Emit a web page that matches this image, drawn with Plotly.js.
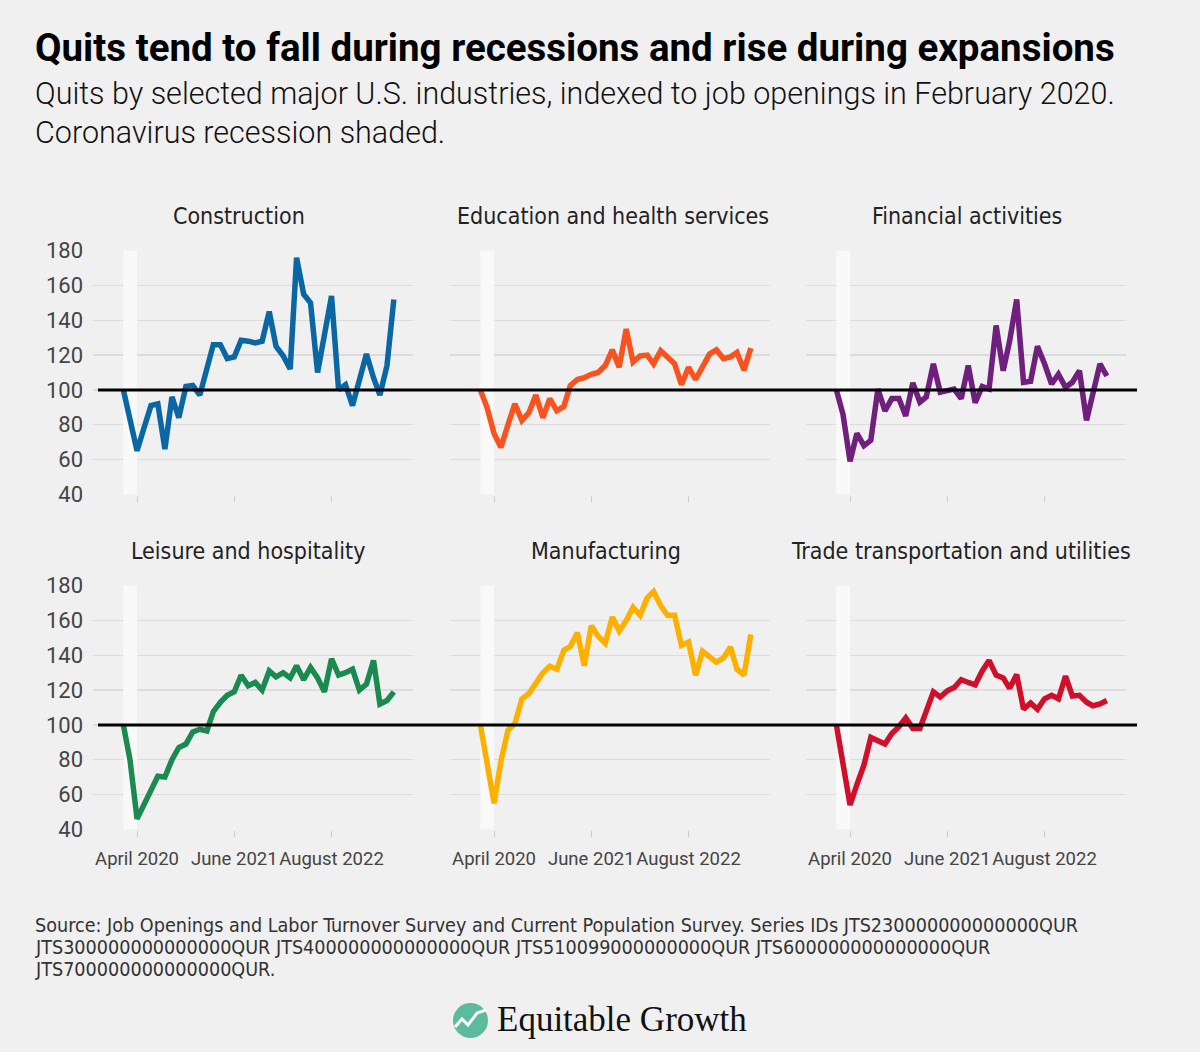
<!DOCTYPE html>
<html>
<head>
<meta charset="utf-8">
<script src="https://cdn.plot.ly/plotly-3.0.1.min.js"></script>
<style>
  body { margin: 0; background: #f0f0f0; }
  #chart { width: 1200px; height: 1052px; }
</style>
</head>
<body>
<div id="chart"></div>
<script>
// months, Feb 2020 .. May 2023
var months = [
  '2020-02-01','2020-03-01','2020-04-01','2020-05-01','2020-06-01','2020-07-01','2020-08-01','2020-09-01','2020-10-01','2020-11-01','2020-12-01',
  '2021-01-01','2021-02-01','2021-03-01','2021-04-01','2021-05-01','2021-06-01','2021-07-01','2021-08-01','2021-09-01','2021-10-01','2021-11-01','2021-12-01',
  '2022-01-01','2022-02-01','2022-03-01','2022-04-01','2022-05-01','2022-06-01','2022-07-01','2022-08-01','2022-09-01','2022-10-01','2022-11-01','2022-12-01',
  '2023-01-01','2023-02-01','2023-03-01','2023-04-01','2023-05-01'
];

var construction = [100, 83, 65, 78, 91, 92, 66, 96, 84, 102, 102.5, 97, 113, 126, 126, 118, 119, 128.5, 128, 127, 128, 145, 125, 119.6, 112, 176, 155, 150, 110, 132, 154, 100, 103, 91, 106, 120.6, 107, 97, 114, 152];
var education = [100, 90, 75, 67, 80, 92, 82.5, 87, 97, 84, 95, 88, 90.5, 102.5, 106, 107, 109, 110, 114, 123, 113, 135, 116, 119.6, 120, 115, 122.5, 118.7, 115, 103, 113, 106, 114, 120.6, 123, 118, 119, 121.5, 111.4, 124];
var financial = [100, 86, 59, 75, 68, 71, 100.5, 88, 95, 95, 85, 104, 93, 96, 115, 98.7, 99.6, 100.5, 95, 114, 92.6, 102, 100.5, 137, 111, 128, 152, 104.4, 105, 125, 115, 103.4, 109, 101.5, 104.4, 111, 82.5, 97.7, 115, 108];
var leisure = [100, 80, 46, 54, 63, 70.5, 70, 80, 87, 89, 96, 97.5, 96.5, 107.6, 113, 117, 119, 128.5, 122.5, 124.4, 120, 131, 127.6, 130, 127, 134, 126, 133, 127, 119, 138, 128.6, 130, 132, 120, 123.4, 137, 112, 114, 119];
var manufacturing = [100, 77, 55, 79, 97, 100.6, 115, 118, 124.4, 130, 133.7, 132, 143, 145, 153, 134, 157, 151, 147, 162, 154, 160, 167.6, 163, 173, 176.6, 168.6, 163, 163, 145.7, 147.6, 128.6, 142.3, 139, 136, 138.5, 144.8, 132, 128.6, 152];
var trade = [100, 77, 54, 65.7, 77, 92.8, 90.5, 89, 95, 99, 104, 98, 98, 109, 119, 116, 119.6, 121.5, 126, 124.4, 123, 131, 137, 128.6, 127, 121, 129, 109, 112.6, 109, 115, 117, 115, 128, 116.6, 117, 113, 111, 112, 114];

var panelNames = ['Construction', 'Education and health services', 'Financial activities',
                  'Leisure and hospitality', 'Manufacturing', 'Trade transportation and utilities'];
var panelColors = ['#0a67a3', '#f8531f', '#6f1f7c', '#1b8a50', '#fdb000', '#d0102a'];
var tickDates = ['2020-04-01', '2021-06-01', '2022-08-01'];
var tickLabels = ['April 2020', 'June 2021', 'August 2022'];
var yTicks = [40, 60, 80, 100, 120, 140, 160, 180];
var recession = ['2020-02-01', '2020-04-01'];
var baseline = 100;

var series = [construction, education, financial, leisure, manufacturing, trade];

var W = 1200, H = 1052;
function px(x) { return x / W; }
function py(y) { return 1 - y / H; }

var FONT = 'Roboto, "DejaVu Sans", sans-serif';
var FONT2 = '"DejaVu Sans Condensed", Roboto, sans-serif';

// panel placement in pixels
var colLeft = [93, 450, 806];
var panelW = 320;
var rowTop = [250, 585];
var panelH = 245;
var titleX = [239, 613, 967, 248, 606, 961];

var data = [];
var layout = {
  width: W, height: H,
  margin: {l: 0, r: 0, t: 0, b: 0},
  paper_bgcolor: '#f0f0f0',
  plot_bgcolor: 'rgba(0,0,0,0)',
  showlegend: false,
  font: {family: FONT, color: '#333'},
  shapes: [],
  annotations: []
};

for (var i = 0; i < 6; i++) {
  var col = i % 3, row = Math.floor(i / 3);
  var sfx = i === 0 ? '' : String(i + 1);
  data.push({
    x: months, y: series[i],
    xaxis: 'x' + sfx, yaxis: 'y' + sfx,
    type: 'scatter', mode: 'lines',
    line: {color: panelColors[i], width: 5.5},
    hoverinfo: 'x+y'
  });
  layout['xaxis' + sfx] = {
    type: 'date',
    domain: [px(colLeft[col]), px(colLeft[col] + panelW)],
    range: ['2019-09-21', '2023-07-24'],
    anchor: 'y' + sfx,
    showgrid: false, zeroline: false, showline: false,
    tickmode: 'array', tickvals: tickDates, ticktext: tickLabels,
    tickangle: 0,
    ticks: 'outside', ticklen: 6, tickwidth: 1, tickcolor: '#cccccc',
    showticklabels: row === 1,
    ticklabelstandoff: 6,
    tickfont: {size: 18.5, color: '#444', family: FONT}
  };
  layout['yaxis' + sfx] = {
    domain: [py(rowTop[row] + panelH), py(rowTop[row])],
    range: [39.6, 180.4],
    anchor: 'x' + sfx,
    tickmode: 'array', tickvals: yTicks,
    showgrid: true, gridcolor: '#dcdcdc', gridwidth: 1.5,
    zeroline: false, showline: false, ticks: '',
    showticklabels: col === 0,
    ticklabelstandoff: 9,
    tickfont: {size: 22, color: '#444', family: FONT}
  };
  layout.shapes.push({
    type: 'rect', xref: 'x' + sfx, yref: 'y' + sfx,
    x0: recession[0], x1: recession[1], y0: 40, y1: 180,
    fillcolor: '#f9f9f9', line: {width: 0}, layer: 'between'
  });
  layout.annotations.push({
    text: panelNames[i], xref: 'paper', yref: 'paper',
    x: px(titleX[i]), y: py(row === 0 ? 216 : 551),
    xanchor: 'center', yanchor: 'middle', showarrow: false,
    font: {size: 23, color: '#222', family: FONT2}
  });
}

// black reference line at 100 across each row
['y', 'y4'].forEach(function (ya) {
  layout.shapes.push({
    type: 'line', xref: 'paper', yref: ya,
    x0: px(98), x1: px(1137), y0: baseline, y1: baseline,
    line: {color: '#000', width: 3}, layer: 'above'
  });
});

// headline, subtitle, source
layout.annotations.push(
  {text: '<b>Quits tend to fall during recessions and rise during expansions</b>',
   xref: 'paper', yref: 'paper', x: px(33), y: py(47), xanchor: 'left', yanchor: 'middle',
   showarrow: false, font: {size: 38.5, color: '#000', family: FONT}},
  {text: 'Quits by selected major U.S. industries, indexed to job openings in February 2020.',
   xref: 'paper', yref: 'paper', x: px(33), y: py(113), xanchor: 'left', yanchor: 'bottom',
   showarrow: false, font: {size: 30.5, color: '#111', family: FONT, weight: 300}},
  {text: 'Coronavirus recession shaded.',
   xref: 'paper', yref: 'paper', x: px(33), y: py(113), xanchor: 'left', yanchor: 'top',
   showarrow: false, font: {size: 30.5, color: '#111', family: FONT, weight: 300}}
);

var sourceLines = [
  'Source: Job Openings and Labor Turnover Survey and Current Population Survey. Series IDs JTS230000000000000QUR',
  'JTS300000000000000QUR JTS400000000000000QUR JTS510099000000000QUR JTS600000000000000QUR',
  'JTS700000000000000QUR.'
];
sourceLines.forEach(function (s, k) {
  layout.annotations.push({
    text: s, xref: 'paper', yref: 'paper', x: px(33), y: py(925 + 22 * k),
    xanchor: 'left', yanchor: 'middle', showarrow: false,
    font: {size: 19.6, color: '#333', family: FONT2}
  });
});

// logo
layout.shapes.push(
  {type: 'circle', xref: 'paper', yref: 'paper',
   x0: px(453), x1: px(488), y0: py(1038), y1: py(1003),
   fillcolor: '#5dbb9d', line: {width: 0}},
  {type: 'path', xref: 'paper', yref: 'paper',
   path: 'M ' + px(455) + ' ' + py(1027) + ' L ' + px(462) + ' ' + py(1019) +
         ' L ' + px(468) + ' ' + py(1025) + ' L ' + px(477) + ' ' + py(1013) +
         ' L ' + px(486) + ' ' + py(1010),
   line: {color: '#ffffff', width: 3}}
);
layout.annotations.push({
  text: 'Equitable Growth', xref: 'paper', yref: 'paper',
  x: px(495), y: py(1019), xanchor: 'left', yanchor: 'middle', showarrow: false,
  font: {size: 35, color: '#111', family: '"Liberation Serif", "DejaVu Serif", serif'}
});

Plotly.newPlot('chart', data, layout, {displayModeBar: false, staticPlot: true});
</script>
</body>
</html>
